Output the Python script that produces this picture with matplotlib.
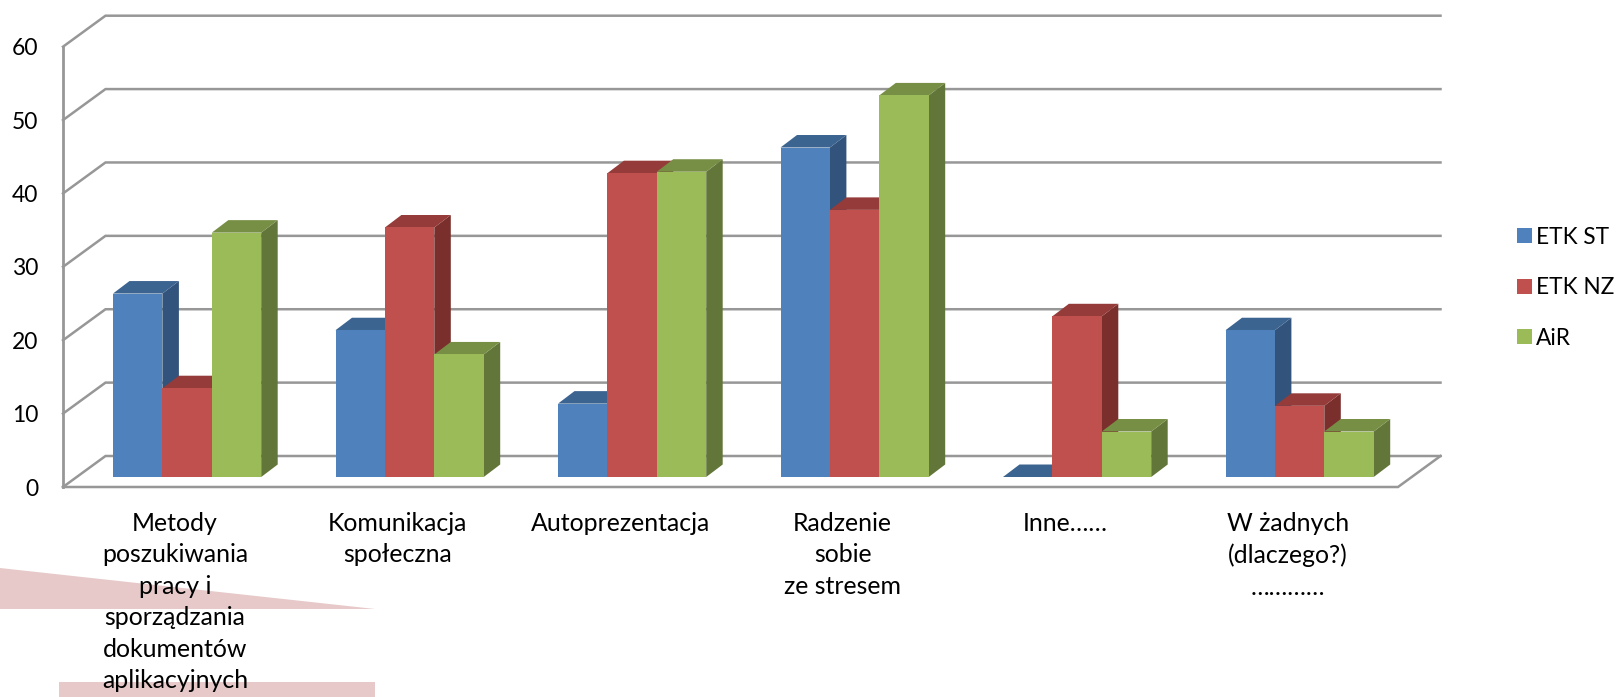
import matplotlib
matplotlib.use('Agg')
import matplotlib.pyplot as plt
from matplotlib.patches import Patch, Polygon, Rectangle

plt.rcParams['font.family'] = ['Lato', 'DejaVu Sans']

categories = ['Metody\nposzukiwania\npracy i\nsporządzania\ndokumentów\naplikacyjnych',
              'Komunikacja\nspołeczna',
              'Autoprezentacja',
              'Radzenie\nsobie\nze stresem',
              'Inne……',
              'W żadnych\n(dlaczego?)\n…………']
etk_st = [25, 20, 10, 44.9, 0, 20]
etk_nz = [12.1, 34, 41.4, 36.4, 21.9, 9.7]
air = [33.3, 16.7, 41.6, 52, 6.2, 6.2]
yticks = [0, 10, 20, 30, 40, 50, 60]

series = [('ETK ST', etk_st, '#4F81BD', '#3C6491', '#32537B'),
          ('ETK NZ', etk_nz, '#C0504D', '#953B39', '#7A2F2D'),
          ('AiR', air, '#9BBB59', '#778F45', '#637639')]

W, H = 1618, 697
fig = plt.figure(figsize=(W / 100, H / 100), dpi=100)
ax = fig.add_axes([63 / W, 1 - 487 / H, 1335 / W, 440.3 / H])
ax.set_xlim(0, 6)
ax.set_ylim(0, 60)
ax.patch.set_visible(False)
for s in ax.spines.values():
    s.set_visible(False)

# oblique offsets of the 3d box, in data units
px = 6 / 1335
py = 60 / 440.3
wall_dx, wall_dy = 42.5 * px, 31 * py
bar_dx, bar_dy = 16.5 * px, 12.5 * py
base = 10 * py
bar_w = 49.4 * px
first = 50 * px
grid = '#979797'

# pink remains of the slide behind the chart
fig.add_artist(Polygon([(0, 1 - 568 / H), (375 / W, 1 - 609 / H), (0, 1 - 609 / H)],
                       transform=fig.transFigure, fc='#E7C9C9', ec='none', zorder=-5))
fig.add_artist(Rectangle((59 / W, 0), 316 / W, 15.5 / H, transform=fig.transFigure,
                         fc='#E7C9C9', ec='none', zorder=-5))

# walls and gridlines
for v in yticks:
    ax.plot([0, wall_dx, 6 + wall_dx], [v, v + wall_dy, v + wall_dy], color=grid, lw=1.8,
            clip_on=False, zorder=1, solid_joinstyle='miter')
ax.plot([0, 0], [0, 60], color=grid, lw=2, clip_on=False, zorder=1)
ax.plot([0, 6, 6 + wall_dx], [0, 0, wall_dy], color=grid, lw=1.8, clip_on=False, zorder=1,
        solid_joinstyle='miter')

for i in range(len(categories)):
    for j, (name, vals, front, top, side) in enumerate(series):
        x0 = i + first + j * bar_w
        x1 = x0 + bar_w
        y1 = base + vals[i]
        ax.add_patch(Polygon([(x1, base), (x1 + bar_dx, base + bar_dy),
                              (x1 + bar_dx, y1 + bar_dy), (x1, y1)],
                             fc=side, ec='none', clip_on=False, zorder=2))
        ax.add_patch(Polygon([(x0, y1), (x0 + bar_dx, y1 + bar_dy),
                              (x1 + bar_dx, y1 + bar_dy), (x1, y1)],
                             fc=top, ec='none', clip_on=False, zorder=2))
        if vals[i] > 0:
            ax.add_patch(Rectangle((x0, base), bar_w, vals[i], fc=front, ec='none',
                                   clip_on=False, zorder=2))

ax.set_xticks([])
ax.set_yticks(yticks)
ax.tick_params(axis='y', length=0, pad=18, labelsize=16.5)
for i, c in enumerate(categories):
    ax.text(i + 0.504, -3.4, c, ha='center', va='top', fontsize=17.9, linespacing=1.446,
            clip_on=False)

handles = [Patch(fc=s[2], ec='none', label=s[0]) for s in series]
ax.legend(handles=handles, loc='upper left', bbox_to_anchor=(1510 / W, 1 - 220 / H),
          bbox_transform=fig.transFigure, frameon=False, fontsize=16.3,
          handlelength=0.66, handleheight=0.66, handletextpad=0.2,
          labelspacing=1.3, borderpad=0.3, borderaxespad=0)

fig.savefig('out.png', dpi=100)
